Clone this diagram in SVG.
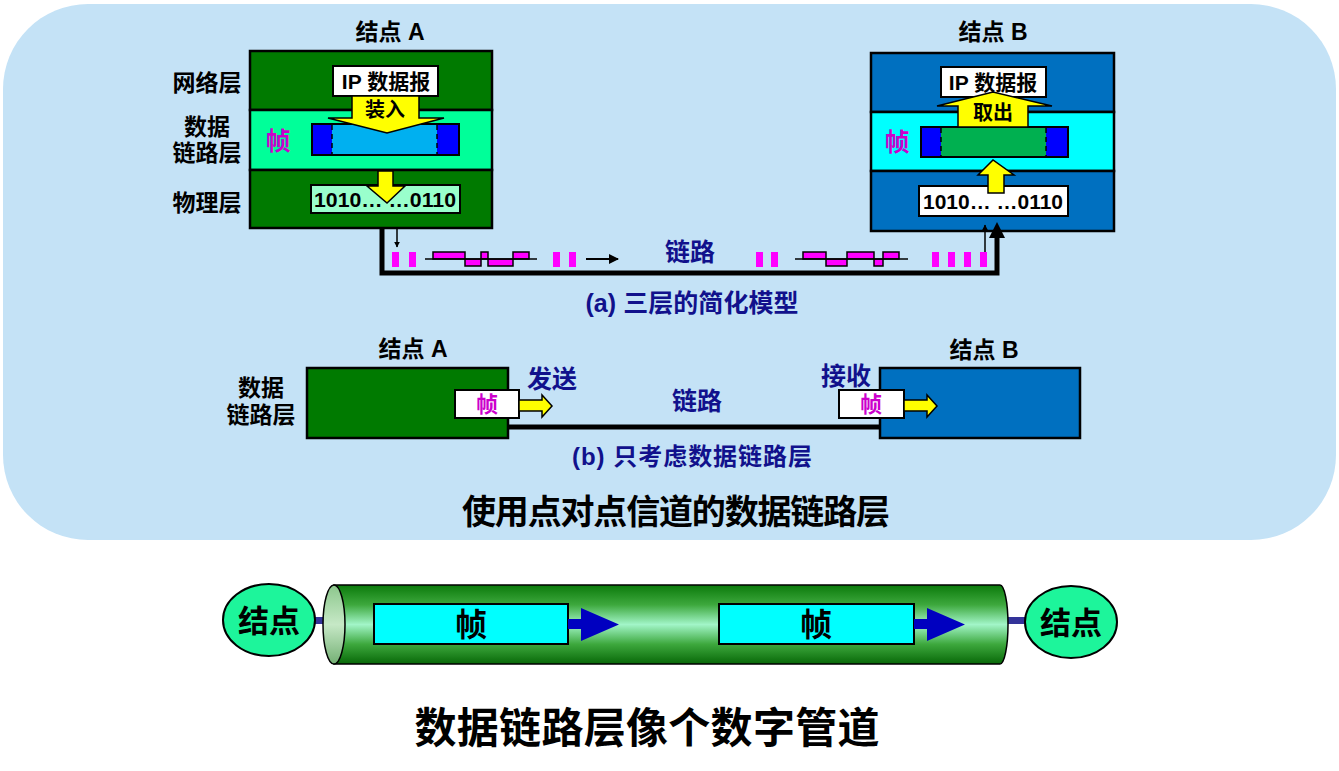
<svg xmlns="http://www.w3.org/2000/svg" width="1339" height="771" viewBox="0 0 1339 771">
<defs>
<style>
text{font-family:"Liberation Sans","Noto Sans CJK SC",sans-serif;font-weight:bold;text-anchor:middle;dominant-baseline:central}
.blk{fill:#000}
.nav{fill:#11118C}
.mag{fill:#CC00CC}
.ol{stroke:#000;stroke-width:2.5}
.yel{fill:#FFFF00;stroke:#000;stroke-width:1.5}
.sq{fill:#FF00FF}
.wave{fill:#FF00FF;stroke:#000;stroke-width:1.5}
</style>
<linearGradient id="pipe" x1="0" y1="0" x2="0" y2="1">
<stop offset="0" stop-color="#0B7A0B"/>
<stop offset="0.25" stop-color="#3DA83D"/>
<stop offset="0.5" stop-color="#A2F5C8"/>
<stop offset="0.75" stop-color="#3DA83D"/>
<stop offset="1" stop-color="#086808"/>
</linearGradient>
<linearGradient id="cap" x1="0" y1="0" x2="0" y2="1">
<stop offset="0" stop-color="#8CC78C"/>
<stop offset="0.5" stop-color="#C6E8C6"/>
<stop offset="1" stop-color="#74B074"/>
</linearGradient>
<marker id="ah" viewBox="0 0 10 10" refX="9" refY="5" markerWidth="6" markerHeight="6" orient="auto-start-reverse" markerUnits="userSpaceOnUse">
<path d="M0,0 L10,5 L0,10 Z" fill="#000"/>
</marker>
<marker id="ahb" viewBox="0 0 10 10" refX="9" refY="5" markerWidth="10" markerHeight="10" orient="auto" markerUnits="userSpaceOnUse">
<path d="M0,0 L10,5 L0,10 Z" fill="#000"/>
</marker>
</defs>

<rect id="panel" x="3" y="4" width="1333" height="536" rx="85" ry="85" fill="#C4E2F6"/>

<!-- (a) Node A -->
<g id="nodeA">
<text x="390" y="32" class="blk" font-size="23">结点 A</text>
<rect x="250" y="51" width="242" height="59" fill="#007A00" class="ol"/>
<rect x="250" y="110" width="242" height="60" fill="#00FF99" class="ol"/>
<rect x="250" y="170" width="242" height="58" fill="#007A00" class="ol"/>
<text x="207" y="83" class="blk" font-size="23">网络层</text>
<text x="207" y="127" class="blk" font-size="23">数据</text>
<text x="207" y="153" class="blk" font-size="23">链路层</text>
<text x="207" y="203" class="blk" font-size="23">物理层</text>
<rect x="333" y="66" width="105" height="30" fill="#FFF" stroke="#000" stroke-width="2"/>
<text x="386" y="81" class="blk" font-size="21">IP 数据报</text>
<rect x="312" y="124" width="147" height="31" fill="#00B0F0" stroke="#000" stroke-width="2"/>
<rect x="313" y="125" width="19" height="29" fill="#0000FF"/>
<rect x="437" y="125" width="21" height="29" fill="#0000FF"/>
<path d="M332,125 V154 M437,125 V154" stroke="#000" stroke-width="1.5" stroke-dasharray="5,4"/>
<polygon points="352,96 419,96 419,118 444,118 387,133 328,118 352,118" class="yel"/>
<text x="385" y="110" class="blk" font-size="20">装入</text>
<text x="278" y="141" class="mag" font-size="25">帧</text>
<rect x="311" y="185" width="149" height="28" fill="#99FFCC" stroke="#000" stroke-width="2"/>
<text x="385" y="199" class="blk" font-size="21" textLength="142" lengthAdjust="spacingAndGlyphs">1010… …0110</text>
<polygon points="378,171 393,171 393,186 405,186 387,203 367,186 378,186" class="yel"/>
</g>

<!-- (a) Node B -->
<g id="nodeB">
<text x="993" y="32" class="blk" font-size="23">结点 B</text>
<rect x="871" y="53" width="243" height="59" fill="#0070C0" class="ol"/>
<rect x="871" y="112" width="243" height="59" fill="#00FFFF" class="ol"/>
<rect x="871" y="171" width="243" height="60" fill="#0070C0" class="ol"/>
<rect x="941" y="67" width="105" height="30" fill="#FFF" stroke="#000" stroke-width="2"/>
<text x="993" y="82" class="blk" font-size="21">IP 数据报</text>
<rect x="921" y="127" width="147" height="30" fill="#00B050" stroke="#000" stroke-width="2"/>
<rect x="922" y="128" width="19" height="28" fill="#0000FF"/>
<rect x="1046" y="128" width="21" height="28" fill="#0000FF"/>
<path d="M941,128 V156 M1046,128 V156" stroke="#000" stroke-width="1.5" stroke-dasharray="5,4"/>
<polygon points="958,127 1028,127 1028,106 1052,106 993,92 937,106 958,106" class="yel"/>
<text x="993" y="113" class="blk" font-size="20">取出</text>
<text x="897" y="142" class="mag" font-size="25">帧</text>
<rect x="919" y="186" width="149" height="30" fill="#FFF" stroke="#000" stroke-width="2"/>
<text x="993" y="201" class="blk" font-size="21" textLength="140" lengthAdjust="spacingAndGlyphs">1010… …0110</text>
<polygon points="988,193 1004,193 1004,175 1014,175 993,160 978,175 988,175" class="yel"/>
</g>

<!-- (a) link -->
<g id="connectors-a">
<polyline points="382,228 382,273 997,273 997,236" fill="none" stroke="#000" stroke-width="5"/>
<path d="M989,238 L997,222 L1005,238 Z" fill="#000"/>
<line x1="397" y1="229" x2="397" y2="247" stroke="#000" stroke-width="1.5" marker-end="url(#ah)"/>
<line x1="985" y1="265" x2="985" y2="225" stroke="#000" stroke-width="1.5" marker-end="url(#ah)"/>
<line x1="586" y1="259" x2="618" y2="259" stroke="#000" stroke-width="2" marker-end="url(#ahb)"/>
<rect x="392" y="252" width="7" height="15" class="sq"/>
<rect x="409" y="252" width="7" height="15" class="sq"/>
<rect x="553" y="252" width="7" height="15" class="sq"/>
<rect x="569" y="252" width="7" height="15" class="sq"/>
<rect x="756" y="252" width="7" height="15" class="sq"/>
<rect x="771" y="252" width="7" height="15" class="sq"/>
<rect x="932" y="252" width="7" height="15" class="sq"/>
<rect x="948" y="252" width="7" height="15" class="sq"/>
<rect x="964" y="252" width="7" height="15" class="sq"/>
<rect x="980" y="252" width="7" height="15" class="sq"/>
<rect x="433" y="252" width="32" height="7" class="wave"/>
<rect x="465" y="259" width="16" height="7" class="wave"/>
<rect x="481" y="252" width="7" height="7" class="wave"/>
<rect x="488" y="259" width="25" height="7" class="wave"/>
<rect x="513" y="252" width="16" height="7" class="wave"/>
<line x1="425" y1="259" x2="537" y2="259" stroke="#000" stroke-width="1.5"/>
<rect x="803" y="252" width="23" height="7" class="wave"/>
<rect x="826" y="259" width="21" height="7" class="wave"/>
<rect x="847" y="252" width="27" height="7" class="wave"/>
<rect x="874" y="259" width="9" height="7" class="wave"/>
<rect x="883" y="252" width="16" height="7" class="wave"/>
<line x1="795" y1="259" x2="908" y2="259" stroke="#000" stroke-width="1.5"/>
<text x="690" y="252" class="nav" font-size="25">链路</text>
</g>
<text x="692" y="303" class="nav" font-size="25" textLength="213" lengthAdjust="spacing">(a) 三层的简化模型</text>

<!-- (b) -->
<g id="connectors-b">
<line x1="508" y1="427" x2="880" y2="427" stroke="#000" stroke-width="5"/>
<text x="697" y="401" class="nav" font-size="25">链路</text>
</g>
<g id="nodeA-b">
<text x="413" y="349" class="blk" font-size="23">结点 A</text>
<text x="261" y="388" class="blk" font-size="23">数据</text>
<text x="261" y="415" class="blk" font-size="23">链路层</text>
<rect x="307" y="368" width="201" height="70" fill="#007A00" class="ol"/>
<rect x="455" y="390" width="64" height="28" fill="#FFF" stroke="#000" stroke-width="2"/>
<text x="487" y="404" class="mag" font-size="22">帧</text>
<polygon points="519,400 542,400 542,395 552,406 542,417 542,411 519,411" class="yel"/>
<text x="552" y="379" class="nav" font-size="25">发送</text>
</g>
<g id="nodeB-b">
<text x="984" y="350" class="blk" font-size="23">结点 B</text>
<rect x="880" y="368" width="200" height="70" fill="#0070C0" class="ol"/>
<rect x="839" y="390" width="65" height="28" fill="#FFF" stroke="#000" stroke-width="2"/>
<text x="871" y="404" class="mag" font-size="22">帧</text>
<polygon points="904,400 927,400 927,395 937,406 927,417 927,411 904,411" class="yel"/>
<text x="846" y="376" class="nav" font-size="25">接收</text>
</g>
<text x="692" y="456" class="nav" font-size="24" textLength="240" lengthAdjust="spacing">(b) 只考虑数据链路层</text>
<text x="676" y="512" class="blk" font-size="34" textLength="428" lengthAdjust="spacing">使用点对点信道的数据链路层</text>

<!-- Pipe -->
<g id="pipe-connectors">
<rect x="314" y="617" width="24" height="7" fill="#333399"/>
<rect x="1003" y="617" width="28" height="7" fill="#333399"/>
</g>
<g id="pipe">
<path d="M334,585 H1000 A8,39.5 0 0 1 1000,664 H334 Z" fill="url(#pipe)" stroke="#000" stroke-width="1.5"/>
<ellipse cx="334" cy="624.5" rx="11" ry="39.5" fill="url(#cap)" stroke="#000" stroke-width="1.5"/>
</g>
<g id="frame1">
<rect x="374" y="604" width="194" height="40" fill="#00FFFF" stroke="#000" stroke-width="2"/>
<text x="471" y="625" class="blk" font-size="32">帧</text>
<polygon points="568,619 581,619 581,608 619,624.5 581,641 581,629 568,629" fill="#0000C0"/>
</g>
<g id="frame2">
<rect x="719" y="604" width="195" height="40" fill="#00FFFF" stroke="#000" stroke-width="2"/>
<text x="816" y="625" class="blk" font-size="32">帧</text>
<polygon points="914,619 927,619 927,608 965,624.5 927,641 927,629 914,629" fill="#0000C0"/>
</g>
<g id="node-left">
<ellipse cx="269" cy="620" rx="46" ry="36" fill="#1DF59B" stroke="#000" stroke-width="2"/>
<text x="269" y="621" class="blk" font-size="31">结点</text>
</g>
<g id="node-right">
<ellipse cx="1071" cy="622" rx="46" ry="36" fill="#1DF59B" stroke="#000" stroke-width="2"/>
<text x="1071" y="623" class="blk" font-size="31">结点</text>
</g>
<text x="647" y="728" class="blk" font-size="42" textLength="465" lengthAdjust="spacing">数据链路层像个数字管道</text>
</svg>
